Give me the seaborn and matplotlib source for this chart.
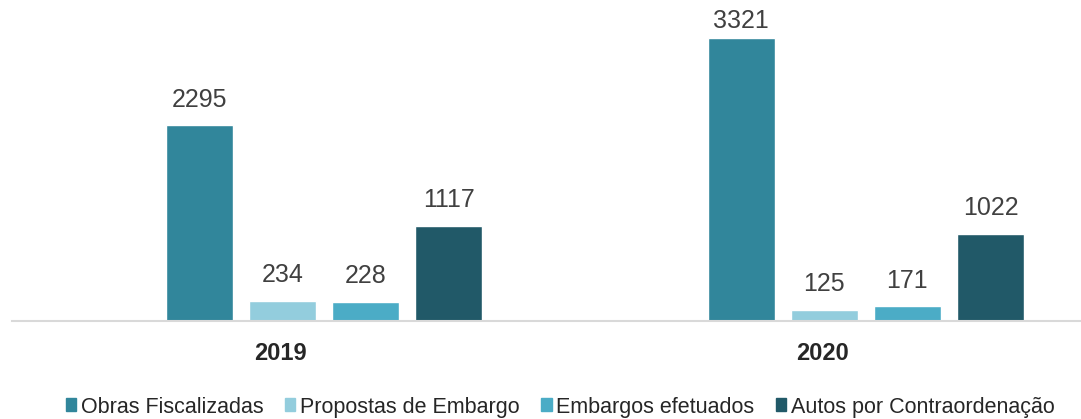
import pandas as pd
import matplotlib
matplotlib.use('Agg')
import matplotlib.pyplot as plt
import seaborn as sns

years = ['2019', '2020']
series = ['Obras Fiscalizadas', 'Propostas de Embargo', 'Embargos efetuados', 'Autos por Contraordenação']
obras = [2295, 3321]
propostas = [234, 125]
embargos = [228, 171]
autos = [1117, 1022]
colors = ['#31869B', '#93CDDD', '#4BACC6', '#215968']

rows = []
for name, vals in zip(series, [obras, propostas, embargos, autos]):
    for y, v in zip(years, vals):
        rows.append({'ano': y, 'serie': name, 'valor': v})
df = pd.DataFrame(rows)

sns.set_style('white')
plt.rcParams['font.family'] = ['Liberation Sans', 'DejaVu Sans']

fig = plt.figure(figsize=(10.81, 4.19), dpi=100)
ax = fig.add_axes([12 / 1081, 98 / 419, 1166 / 1081, 321 / 419])

sns.barplot(data=df, x='ano', y='valor', hue='serie', order=years, hue_order=series,
            palette=colors, width=0.613, gap=0.2, saturation=1, ax=ax, legend=False)

top = df['valor'].max()
for cont in ax.containers:
    texts = ax.bar_label(cont, padding=10, fontsize=18, color='#404040')
    for bar, t in zip(cont, texts):
        # tallest label gets squeezed under the plot top, like in the original
        if bar.get_height() == top:
            t.xyann = (0, 4)

ax.set_xlim(-0.576, 1.576)
ax.set_ylim(0, 3768)
ax.set_xlabel('')
ax.set_ylabel('')
ax.set_yticks([])
# category labels sit a bit left of the bar groups in the original
ax.set_xticks([-0.08, 0.92], years)
ax.tick_params(axis='x', length=0, pad=15)
for lab in ax.get_xticklabels():
    lab.set_fontweight('bold')
    lab.set_fontsize(17)
    lab.set_color('#262626')
for s in ['top', 'left', 'right']:
    ax.spines[s].set_visible(False)
ax.spines['bottom'].set_color('#D9D9D9')
ax.spines['bottom'].set_linewidth(1.5)

handles = [matplotlib.patches.Patch(color=c, label=n) for c, n in zip(colors, series)]
fig.legend(handles=handles, loc='center', bbox_to_anchor=(560 / 1081, 1 - 407 / 419), ncol=4,
           frameon=False, fontsize=15.5, handlelength=0.5, handleheight=0.55,
           handletextpad=0.2, columnspacing=1.0, borderaxespad=0)

fig.savefig('out.png', dpi=100)
